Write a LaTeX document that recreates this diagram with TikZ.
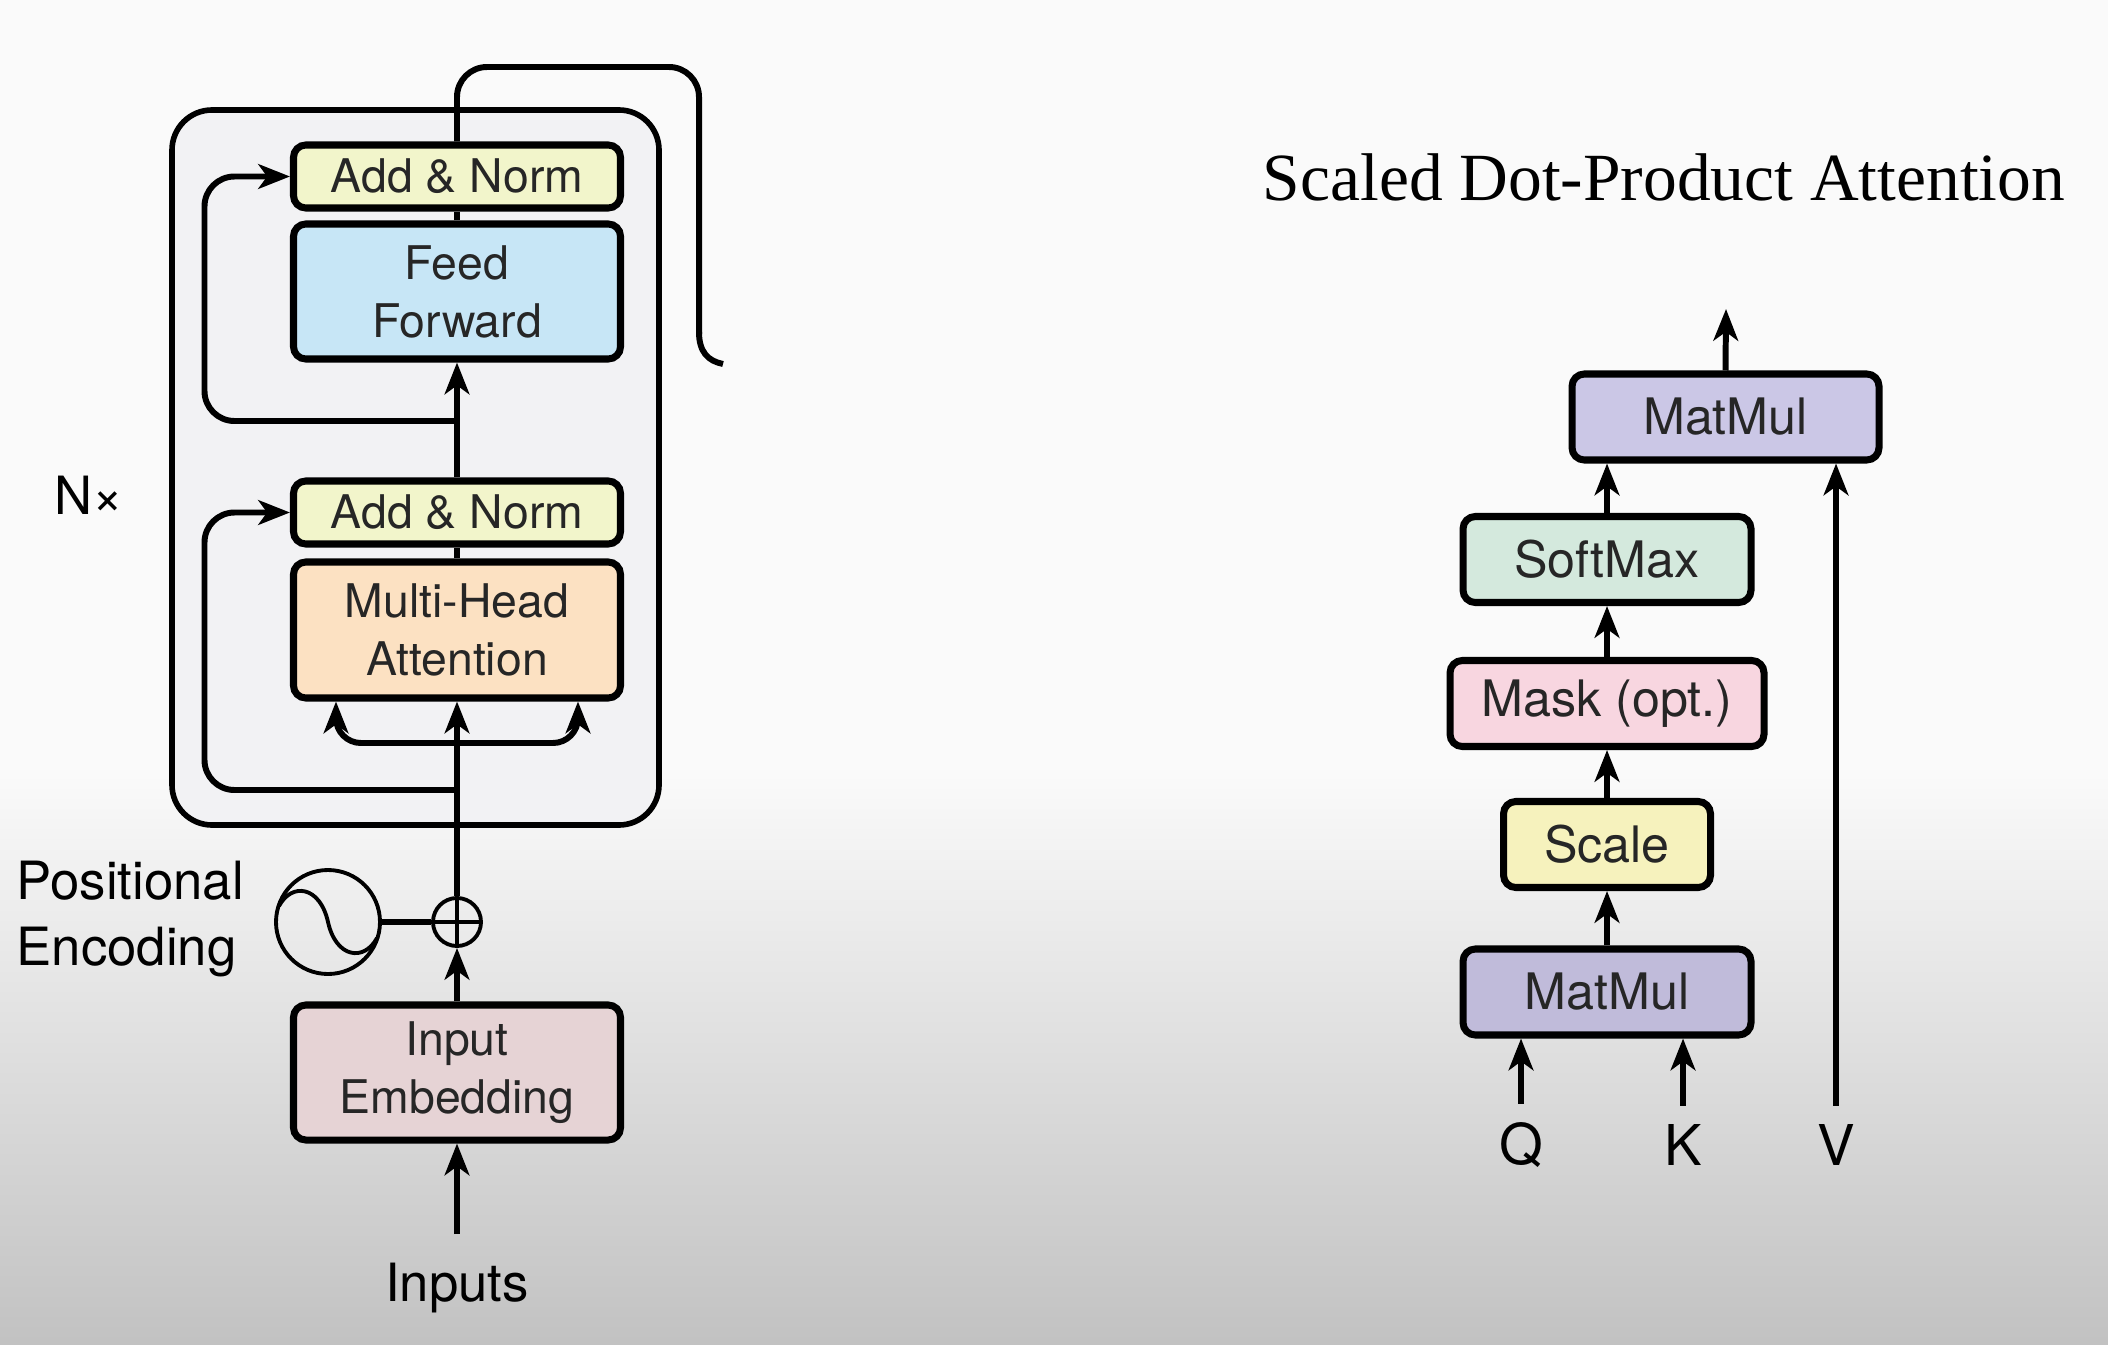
\documentclass[tikz,border=0pt]{standalone}
\usepackage{fontspec}
\setsansfont{TeX Gyre Heros}
\newfontfamily\titlefont{Liberation Serif}
\usepackage{tikz}
\usetikzlibrary{arrows.meta, positioning, calc}
\definecolor{ANyellow}{HTML}{F2F5CB}
\definecolor{FFblue}{HTML}{C7E6F6}
\definecolor{MHAorange}{HTML}{FCE1C2}
\definecolor{EMBpink}{HTML}{E6D3D5}
\definecolor{LAYERgray}{HTML}{F2F2F4}
\definecolor{MMpurple}{HTML}{CBC7E6}
\definecolor{MMpurpleB}{HTML}{C0BBDA}
\definecolor{SMgreen}{HTML}{D4E9DD}
\definecolor{MKpink}{HTML}{F8D6E0}
\definecolor{SCyellow}{HTML}{F6F2BD}

\begin{document}
\begin{tikzpicture}
\tikzset{
  block/.style={draw=black, line width=2pt, rounded corners=3.5pt, align=center,
    inner sep=0pt, text=black!85, font=\sffamily\fontsize{13.2}{16.5}\selectfont},
  rblock/.style={block, minimum height=0.86cm, font=\sffamily\fontsize{14.3}{17}\selectfont},
  wire/.style={line width=1.7pt},
  flow/.style={wire, -{Stealth[length=9pt, width=7pt, inset=2.5pt]}},
  lbl/.style={font=\sffamily\fontsize{15}{19}\selectfont, inner sep=0pt},
  qkv/.style={font=\sffamily\fontsize{16}{19}\selectfont, inner sep=0pt},
}
  \useasboundingbox (0,0) rectangle (21.08,13.44);
  % backdrop: light top, grey fade at the bottom
  \fill[white!98!black] (0,0) rectangle (21.08,13.44);
  \shade[top color=white!98!black, bottom color=black!24] (0,0) rectangle (21.08,5.7);

  % encoder layer (left)
  \node[draw, line width=1.6pt, fill=LAYERgray, rounded corners=0.4cm,
    minimum width=4.87cm, minimum height=7.15cm] (layer) at (4.155,8.765) {};
  \node[block, fill=ANyellow, minimum width=3.27cm, minimum height=0.63cm] (an2) at (4.57,11.675) {Add \& Norm};
  \node[block, fill=FFblue, minimum width=3.27cm, minimum height=1.35cm] (ff) at (4.57,10.525) {Feed\\Forward};
  \node[block, fill=ANyellow, minimum width=3.27cm, minimum height=0.63cm] (an1) at (4.57,8.315) {Add \& Norm};
  \node[block, fill=MHAorange, minimum width=3.27cm, minimum height=1.36cm] (mha) at (4.57,7.14) {Multi-Head\\Attention};
  \node[block, fill=EMBpink, minimum width=3.27cm, minimum height=1.35cm] (emb) at (4.57,2.715) {Input\\Embedding};

  % positional encoding and sum
  \node[circle, draw, line width=1.1pt, minimum size=0.48cm, inner sep=0pt] (add) at (4.57,4.22) {};
  \draw[line width=1.1pt] (add.north) -- (add.south) (add.west) -- (add.east);
  \node[circle, draw, line width=1.1pt, minimum size=1.04cm, inner sep=0pt] (pe) at (3.28,4.22) {};
  \draw[line width=1.1pt, shift={(pe.center)}]
    (-0.49,0.16) .. controls (-0.36,0.40) and (-0.08,0.36) .. (0,0)
    .. controls (0.08,-0.36) and (0.36,-0.40) .. (0.49,-0.16);

  \node[lbl, align=left, anchor=west] (pelabel) at (0.16,4.25) {Positional\\Encoding};
  \node[lbl] (nx) at (0.89,8.49) {N×};
  \node[lbl] (inputs) at (4.57,0.56) {Inputs};

  % main flow
  \coordinate (instart) at (4.57,1.10);
  \coordinate (split) at (4.57,6.01);
  \coordinate (res1) at (4.57,5.54);
  \coordinate (res2) at (4.57,9.23);
  \draw[flow] (instart) -- (emb.south);
  \draw[flow] (emb.north) -- (add.south);
  \draw[wire] (pe.east) -- (add.west);
  \draw[flow] (add.north) -- (mha.south);
  \draw[flow, rounded corners=0.25cm] (split) -| ([xshift=-1.21cm]mha.south);
  \draw[flow, rounded corners=0.25cm] (split) -| ([xshift=1.21cm]mha.south);
  \draw[flow, rounded corners=0.3cm] (res1) -| ([xshift=-0.855cm]an1.west) -- (an1.west);
  \draw[wire] (mha.north) -- (an1.south);
  \draw[flow] (an1.north) -- (ff.south);
  \draw[flow, rounded corners=0.3cm] (res2) -| ([xshift=-0.855cm]an2.west) -- (an2.west);
  \draw[wire] (ff.north) -- (an2.south);

  % output leaving the layer
  \coordinate (outend) at (7.23,9.80);
  \draw[wire, rounded corners=0.3cm] (an2.north) -- (4.57,12.77) -- (6.99,12.77) -- (6.99,10.10);
  \draw[wire] (6.99,10.12) .. controls (6.99,9.92) and (7.08,9.83) .. (outend);

  % scaled dot-product attention (right)
  \node[font=\titlefont\fontsize{19.2}{23}\selectfont, inner sep=0pt] (title) at (16.64,11.67)
    {Scaled Dot-Product Attention};
  \node[rblock, fill=MMpurple, minimum width=3.07cm] (mm2) at (17.255,9.27) {MatMul};
  \node[rblock, fill=SMgreen, minimum width=2.88cm] (sm) at (16.07,7.845) {SoftMax};
  \node[rblock, fill=MKpink, minimum width=3.14cm] (mask) at (16.07,6.405) {Mask (opt.)};
  \node[rblock, fill=SCyellow, minimum width=2.07cm] (scale) at (16.07,4.995) {Scale};
  \node[rblock, fill=MMpurpleB, minimum width=2.88cm] (mm1) at (16.07,3.52) {MatMul};

  \node[qkv] (q) at (15.21,1.99) {Q};
  \node[qkv] (k) at (16.83,1.99) {K};
  \node[qkv] (v) at (18.36,1.99) {V};

  \coordinate (out) at (17.26,10.35);
  \draw[flow] ([yshift=0.18cm]q.north) -- (q |- mm1.south);
  \draw[flow] ([yshift=0.18cm]k.north) -- (k |- mm1.south);
  \draw[flow] ([yshift=0.18cm]v.north) -- (v |- mm2.south);
  \draw[flow] (mm1.north) -- (scale.south);
  \draw[flow] (scale.north) -- (mask.south);
  \draw[flow] (mask.north) -- (sm.south);
  \draw[flow] (sm.north) -- (sm.north |- mm2.south);
  \draw[flow] (mm2.north) -- (out);
\end{tikzpicture}
\end{document}
